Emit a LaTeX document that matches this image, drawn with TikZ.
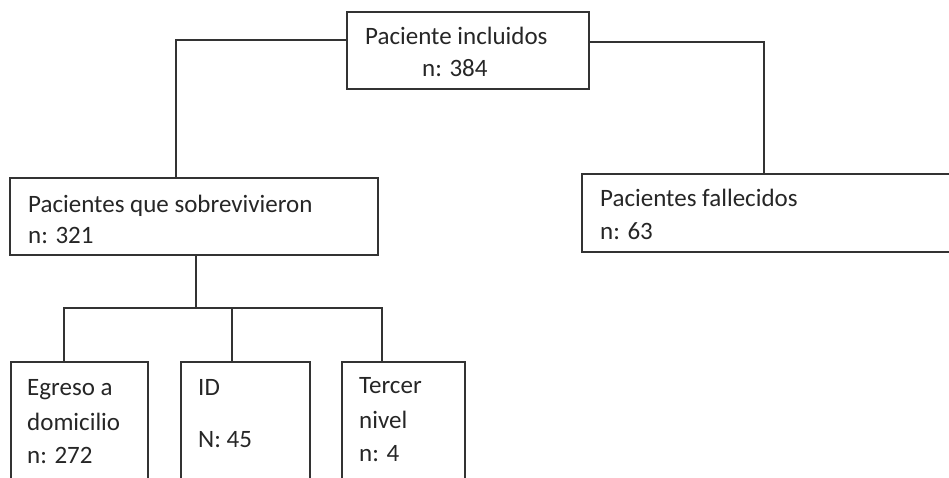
\documentclass[tikz,border=0pt]{standalone}
\usepackage{fontspec}
\setmainfont{Carlito}
\definecolor{ln}{HTML}{333333}
\definecolor{tx}{HTML}{262626}
\tikzset{
  box/.style={draw=ln, line width=1.8pt, rectangle, inner sep=0pt},
  txt/.style={anchor=base west, inner sep=0pt, text=tx, font=\fontsize{25}{29}\selectfont},
  conn/.style={draw=ln, line width=1.8pt}
}
\begin{document}
\begin{tikzpicture}[x=1pt,y=-1pt]
\useasboundingbox (0,0) rectangle (949,478);
\clip (0,0) rectangle (949,478);
% boxes
\node[box, minimum width=242pt, minimum height=77pt] (top) at (468,50.5) {};
\node[box, minimum width=368pt, minimum height=77pt] (surv) at (194,216.5) {};
\node[box, minimum width=378pt, minimum height=78pt] (fall) at (771,213) {};
\node[box, minimum width=137pt, minimum height=138pt] (egr) at (79.5,431) {};
\node[box, minimum width=129pt, minimum height=138pt] (idb) at (245.5,431) {};
\node[box, minimum width=123pt, minimum height=138pt] (ter) at (403.5,431) {};
% texts
\node[txt] (t1) at (365,45) {Paciente incluidos};
\node[txt] (t2) at (422,77) {n: 384};
\node[txt] (t3) at (28,212) {Pacientes que sobrevivieron};
\node[txt] (t4) at (28,243) {n: 321};
\node[txt] (t5) at (600,207) {Pacientes fallecidos};
\node[txt] (t6) at (600,240) {n: 63};
\node[txt] (t7) at (27,395) {Egreso a};
\node[txt] (t8) at (27,430) {domicilio};
\node[txt] (t9) at (27,463) {n: 272};
\node[txt] (t10) at (198,395) {ID};
\node[txt] (t11) at (198,447) {N: 45};
\node[txt] (t12) at (359,393) {Tercer};
\node[txt] (t13) at (359,428) {nivel};
\node[txt] (t14) at (359,461) {n: 4};
% connectors
\coordinate (j) at (196,308);
\draw[conn] ([yshift=10.5pt]top.west) -| ([xshift=-18pt]surv.north);
\draw[conn] ([yshift=8.5pt]top.east) -| ([xshift=-7pt]fall.north);
\draw[conn] ([xshift=2pt]surv.south) -- (j);
\draw[conn] ([xshift=-15.5pt]egr.north) |- (j);
\draw[conn] ([xshift=-13.5pt]idb.north) |- (j);
\draw[conn] ([xshift=-21.5pt]ter.north) |- (j);
\end{tikzpicture}
\end{document}
